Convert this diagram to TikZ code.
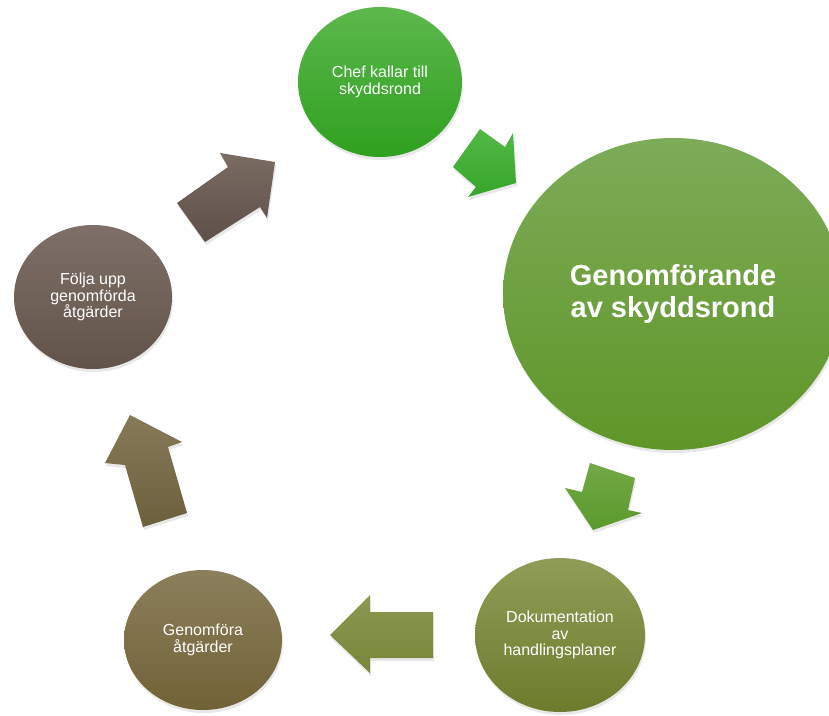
\documentclass[tikz,border=0pt]{standalone}
\usepackage{fontspec}
\setmainfont{Liberation Sans}
\usetikzlibrary{shapes.geometric,shadows}
\definecolor{grT}{HTML}{5CB84C}\definecolor{grB}{HTML}{2FA01F}
\definecolor{bgT}{HTML}{7DAB58}\definecolor{bgB}{HTML}{5F9628}
\definecolor{daT}{HTML}{72A845}\definecolor{daB}{HTML}{5A9A2C}
\definecolor{olT}{HTML}{8F9D58}\definecolor{olB}{HTML}{6C7C2C}
\definecolor{laT}{HTML}{8A9850}\definecolor{laB}{HTML}{76883A}
\definecolor{brT}{HTML}{8B7F5C}\definecolor{brB}{HTML}{716236}
\definecolor{uaT}{HTML}{867A58}\definecolor{uaB}{HTML}{6C5F3C}
\definecolor{gbT}{HTML}{7E7068}\definecolor{gbB}{HTML}{62534A}
\definecolor{raT}{HTML}{7A6B63}\definecolor{raB}{HTML}{5E5048}
\definecolor{gaT}{HTML}{52B845}\definecolor{gaB}{HTML}{36A52A}
\begin{document}
\begin{tikzpicture}[x=1pt,y=-1pt,
  softshadow/.style={drop shadow={opacity=0.18,shadow xshift=1pt,shadow yshift=-3pt}},
  bub/.style={ellipse, inner sep=0pt, text=white, align=center,
    font=\fontsize{16}{16.5}\selectfont, softshadow},
  blockarrow/.style={softshadow}]
\useasboundingbox (0,0) rectangle (829,715);

% circles
\node[bub, minimum width=164pt, minimum height=150pt, top color=grT, bottom color=grB]
  (chef) at (380,82) {Chef kallar till\\skyddsrond};
\node[bub, minimum width=340pt, minimum height=312pt, top color=bgT, bottom color=bgB,
  font=\bfseries\fontsize{29}{32}\selectfont]
  (genom) at (673,294) {Genomförande\\av skyddsrond};
\node[bub, minimum width=170pt, minimum height=154pt, top color=olT, bottom color=olB]
  (dok) at (560,635) {Dokumentation\\av\\handlingsplaner};
\node[bub, minimum width=158pt, minimum height=140pt, top color=brT, bottom color=brB]
  (atg) at (203,640) {Genomföra\\åtgärder};
\node[bub, minimum width=158pt, minimum height=144pt, top color=gbT, bottom color=gbB]
  (folj) at (93,297) {Följa upp\\genomförda\\åtgärder};

% block arrows
\path[blockarrow, top color=gaT, bottom color=gaB]
  (453,167) -- (480,129) -- (505,147) -- (513,133) -- (516,183) -- (468,197) -- (476,187) -- cycle;
\path[blockarrow, top color=daT, bottom color=daB]
  (590,463) -- (635,478) -- (628,510) -- (642,513) -- (593,530) -- (565,488) -- (582,492) -- cycle;
\path[blockarrow, top color=laT, bottom color=laB]
  (330,635) -- (370,595) -- (370,612) -- (433,612) -- (433,658) -- (370,658) -- (370,673) -- cycle;
\path[blockarrow, top color=uaT, bottom color=uaB]
  (130,415) -- (182,442) -- (168,447) -- (187,513) -- (143,527) -- (125,465) -- (105,463) -- cycle;
\path[blockarrow, top color=raT, bottom color=raB]
  (177,203) -- (228,167) -- (220,153) -- (275,162) -- (267,218) -- (260,207) -- (205,242) -- cycle;
\end{tikzpicture}
\end{document}
